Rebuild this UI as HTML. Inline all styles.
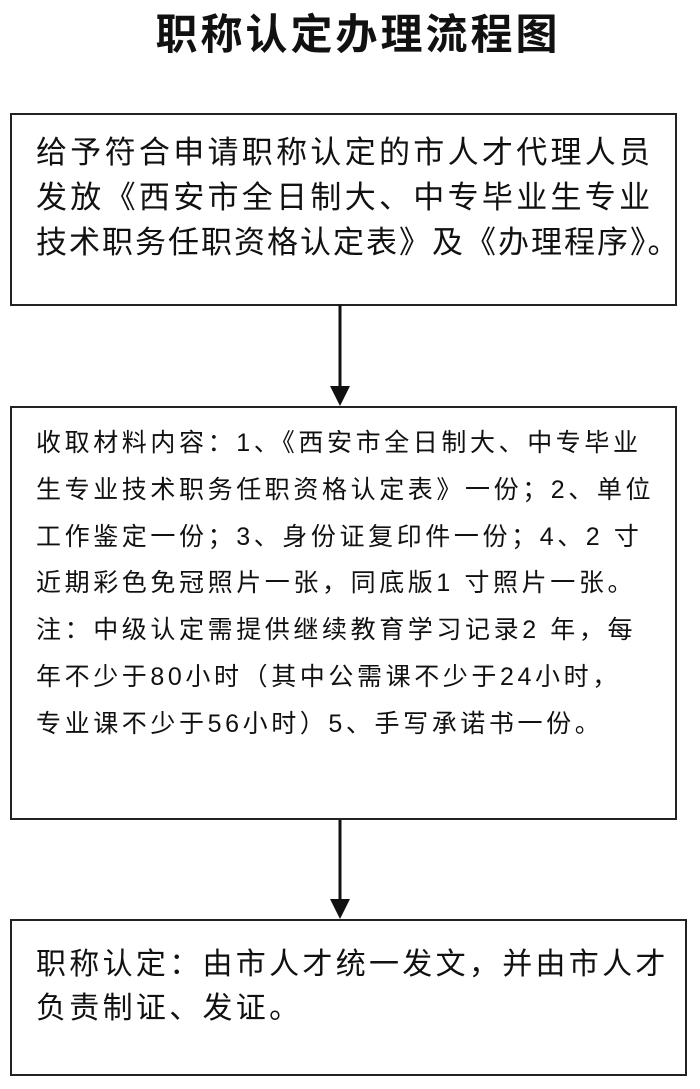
<!DOCTYPE html>
<html><head><meta charset="utf-8"><style>
body{margin:0;width:700px;height:1089px;background:#fff;position:relative;overflow:hidden;font-family:"Liberation Sans","Noto Sans CJK SC",sans-serif;color:#111}
.t{position:absolute;left:8px;width:700px;top:8px;text-align:center;font-size:42px;letter-spacing:3px;font-weight:bold;line-height:54px}
.b{position:absolute;border:2.5px solid #222;box-sizing:border-box}
.tx{position:absolute;white-space:nowrap}
</style></head><body>
<div class="t">职称认定办理流程图</div>
<div class="b" style="left:10px;top:113px;width:667px;height:193px"></div>
<div class="tx" style="left:36px;top:130px;font-size:31px;letter-spacing:3.3px;line-height:45px">给予符合申请职称认定的市人才代理人员<br>发放《西安市全日制大、中专毕业生专业<br><span style="letter-spacing:2px">技术职务任职资格认定表》及《办理程序》。</span></div>
<div class="b" style="left:10px;top:406px;width:667px;height:414px"></div>
<div class="tx" style="left:36px;top:420px;font-size:25px;letter-spacing:3.6px;line-height:46.8px">收取材料内容：1、《西安市全日制大、中专毕业<br>生专业技术职务任职资格认定表》一份；2、单位<br>工作鉴定一份；3、身份证复印件一份；4、2 寸<br>近期彩色免冠照片一张，同底版1 寸照片一张。<br>注：中级认定需提供继续教育学习记录2 年，每<br>年不少于80小时（其中公需课不少于24小时，<br>专业课不少于56小时）5、手写承诺书一份。</div>
<div class="b" style="left:10px;top:919px;width:677px;height:157px"></div>
<div class="tx" style="left:36px;top:943px;font-size:30px;letter-spacing:3.3px;line-height:44px">职称认定：由市人才统一发文，并由市人才<br>负责制证、发证。</div>
<svg style="position:absolute;left:0;top:0" width="700" height="1089">
<line x1="340" y1="305" x2="340" y2="388" stroke="#111" stroke-width="3"/>
<polygon points="330,386 350,386 340,406" fill="#111"/>
<line x1="340" y1="820" x2="340" y2="900" stroke="#111" stroke-width="3"/>
<polygon points="330,899 350,899 340,919" fill="#111"/>
</svg>
</body></html>
